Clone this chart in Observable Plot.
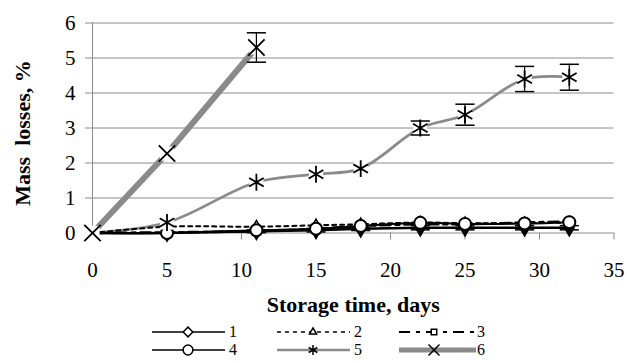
<!DOCTYPE html>
<html><head><meta charset="utf-8">
<script src="https://cdn.jsdelivr.net/npm/d3@7"></script>
<script src="https://cdn.jsdelivr.net/npm/@observablehq/plot@0.6"></script>
<style>
body{margin:0;background:#fff;}
#chart{position:relative;width:627px;height:363px;overflow:hidden;}
#chart svg{display:block;}
</style></head><body><div id="chart"></div>
<script>
// ---- data ----
const days = [0, 5, 11, 15, 18, 22, 25, 29, 32];
const s1 = [0, 0.00, 0.05, 0.08, 0.12, 0.15, 0.15, 0.15, 0.15];
const s2 = [0, 0.18, 0.18, 0.22, 0.25, 0.30, 0.28, 0.28, 0.30];
const s3 = [0, 0.02, 0.05, 0.12, 0.20, 0.25, 0.25, 0.30, 0.33];
const s4 = [0, 0.00, 0.08, 0.12, 0.20, 0.29, 0.26, 0.27, 0.31];
const s5 = [0, 0.30, 1.45, 1.68, 1.84, 3.00, 3.38, 4.40, 4.45];
const s5err = [0, 0, 0, 0, 0, 0.20, 0.30, 0.36, 0.37];
const s6days = [0, 5, 11];
const s6 = [0, 2.27, 5.30];
const s6err = [0, 0, 0.42];
const lowErr = [0, 0, 0.04, 0.05, 0.05, 0.06, 0.06, 0.06, 0.06];
const seriesNames = ["1", "2", "3", "4", "5", "6"];
const xTicks = [0, 5, 10, 15, 20, 25, 30, 35];
const yTicks = [0, 1, 2, 3, 4, 5, 6];
const xTitle = "Storage time, days";
const yTitle = "Mass\u00a0 losses, %";

const GRAY = "#8a8a8a";
const GRID = "#8c8c8c";
const FONT = "'Liberation Serif', 'Times New Roman', serif";

function rows(xs, ys, errs, name) {
  return xs.map((d, i) => ({day: d, value: ys[i], err: errs ? errs[i] : 0, series: name}));
}
const r1 = rows(days, s1, lowErr, "1");
const r2 = rows(days, s2, null, "2");
const r3 = rows(days, s3, null, "3");
const r4 = rows(days, s4, null, "4");
const r5 = rows(days, s5, s5err, "5");
const r6 = rows(s6days, s6, s6err, "6");

// horizontal-line symbol for error-bar caps
const capSymbol = {draw(ctx, size) { const w = Math.sqrt(size) * 0.9; ctx.moveTo(-w, 0); ctx.lineTo(w, 0); }};

function errMarks(data) {
  const d = data.filter(r => r.err > 0);
  return [
    Plot.ruleX(d, {x: "day", y1: r => r.value - r.err, y2: r => r.value + r.err, stroke: "black", strokeWidth: 1.2}),
    Plot.dot(d, {x: "day", y: r => r.value + r.err, symbol: capSymbol, r: 6, stroke: "black", strokeWidth: 1.5}),
    Plot.dot(d, {x: "day", y: r => r.value - r.err, symbol: capSymbol, r: 6, stroke: "black", strokeWidth: 1.5})
  ];
}

const plot = Plot.plot({
  width: 627,
  height: 318,
  marginLeft: 92,
  marginRight: 13.5,
  marginTop: 22.5,
  marginBottom: 85.5,
  style: {fontFamily: FONT, background: "white"},
  x: {domain: [0, 35]},
  y: {domain: [0, 6]},
  marks: [
    Plot.gridY(yTicks.slice(1), {stroke: GRID, strokeOpacity: 1, strokeWidth: 1}),
    Plot.axisY(yTicks, {tickSize: 7, tickPadding: 10, stroke: GRID, fill: "black", fontSize: 21, label: null}),
    Plot.axisX(xTicks, {tickSize: 7, tickPadding: 22, stroke: GRID, fill: "black", fontSize: 21, label: null}),
    Plot.ruleX([0], {stroke: GRID, strokeWidth: 1}),
    Plot.ruleY([0], {stroke: GRID, strokeWidth: 1}),
    // series 6
    Plot.line(r6, {x: "day", y: "value", stroke: GRAY, strokeWidth: 6}),
    // series 5
    Plot.line(r5, {x: "day", y: "value", stroke: GRAY, strokeWidth: 2.8, curve: "catmull-rom"}),
    // low series
    Plot.line(r3, {x: "day", y: "value", stroke: "black", strokeWidth: 2.5, strokeDasharray: "10,5,4,5", curve: "catmull-rom"}),
    Plot.line(r2, {x: "day", y: "value", stroke: "black", strokeWidth: 2, strokeDasharray: "4,4", curve: "catmull-rom"}),
    Plot.line(r1, {x: "day", y: "value", stroke: "black", strokeWidth: 2.5, curve: "catmull-rom"}),
    Plot.line(r4, {x: "day", y: "value", stroke: "black", strokeWidth: 2, curve: "catmull-rom"}),
    ...errMarks(r1),
    Plot.dot(r1.slice(1), {x: "day", y: "value", symbol: "diamond", r: 5, fill: "black", stroke: "black", strokeWidth: 1.5}),
    Plot.dot(r2.slice(1), {x: "day", y: "value", symbol: "triangle", r: 4, fill: "white", stroke: "black", strokeWidth: 1.5}),
    Plot.dot(r3.slice(1), {x: "day", y: "value", symbol: "square", r: 4, fill: "white", stroke: "black", strokeWidth: 1.5}),
    Plot.dot(r4.slice(1), {x: "day", y: "value", symbol: "circle", r: 6, fill: "white", stroke: "black", strokeWidth: 2}),
    // markers of 5 and 6 on white patches
    Plot.dot(r5.slice(1), {x: "day", y: "value", symbol: "square", r: 8, fill: "white", stroke: "none"}),
    Plot.dot(r6, {x: "day", y: "value", symbol: "square", r: 8, fill: "white", stroke: "none"}),
    ...errMarks(r5),
    ...errMarks(r6),
    Plot.dot(r5.slice(1), {x: "day", y: "value", symbol: "asterisk", r: 8, stroke: "black", strokeWidth: 1.8}),
    Plot.dot(r6, {x: "day", y: "value", symbol: "times", r: 7.5, stroke: "black", strokeWidth: 1.8}),
    // titles
    Plot.text([xTitle], {frameAnchor: "bottom", dy: 72, lineAnchor: "middle", textAnchor: "middle", fontSize: 22, fontWeight: "bold", fill: "black"}),
    Plot.text([yTitle], {frameAnchor: "left", dx: -70, dy: 5, rotate: -90, lineAnchor: "middle", textAnchor: "middle", fontSize: 22, fontWeight: "bold", fill: "black"})
  ]
});
document.getElementById("chart").appendChild(plot);
d3.select(plot).style("font-family", FONT);
d3.select(plot).selectAll("g, text").style("font-family", FONT);

// ---- legend ----
const legendItems = [
  {name: seriesNames[0], col: 0, row: 0, stroke: "black", width: 1.5, dash: null, sym: d3.symbolDiamond2 || d3.symbolDiamond, symSize: 60, fill: "white"},
  {name: seriesNames[1], col: 1, row: 0, stroke: "black", width: 1.5, dash: "4,4", sym: d3.symbolTriangle, symSize: 22, fill: "white"},
  {name: seriesNames[2], col: 2, row: 0, stroke: "black", width: 1.8, dash: "11,6,4,6", sym: d3.symbolSquare, symSize: 30, fill: "white"},
  {name: seriesNames[3], col: 0, row: 1, stroke: "black", width: 1.5, dash: null, sym: d3.symbolCircle, symSize: 75, fill: "white"},
  {name: seriesNames[4], col: 1, row: 1, stroke: GRAY, width: 2.5, dash: null, sym: d3.symbolAsterisk, symSize: 70, fill: "none"},
  {name: seriesNames[5], col: 2, row: 1, stroke: GRAY, width: 5, dash: null, sym: d3.symbolTimes, symSize: 80, fill: "none"}
];
const colX = [[152, 225, 188, 229], [277, 350, 313, 354], [399, 476, 434, 477]];
const rowY = [14, 32];
const lg = d3.select("#chart").append("svg").attr("width", 627).attr("height", 45);
legendItems.forEach(it => {
  const [x1, x2, xm, xt] = colX[it.col];
  const y = rowY[it.row];
  lg.append("line").attr("x1", x1).attr("x2", x2).attr("y1", y).attr("y2", y)
    .attr("stroke", it.stroke).attr("stroke-width", it.width)
    .attr("stroke-dasharray", it.dash);
  lg.append("path").attr("d", d3.symbol(it.sym, it.symSize)())
    .attr("transform", `translate(${xm},${y})`)
    .attr("fill", it.fill === "none" ? "none" : "white")
    .attr("stroke", "black").attr("stroke-width", 1.5);
  lg.append("text").attr("x", xt).attr("y", y).attr("dy", "0.33em")
    .attr("font-size", 16).style("font-family", FONT)
    .attr("fill", "black").text(it.name);
});
</script>
</body></html>
